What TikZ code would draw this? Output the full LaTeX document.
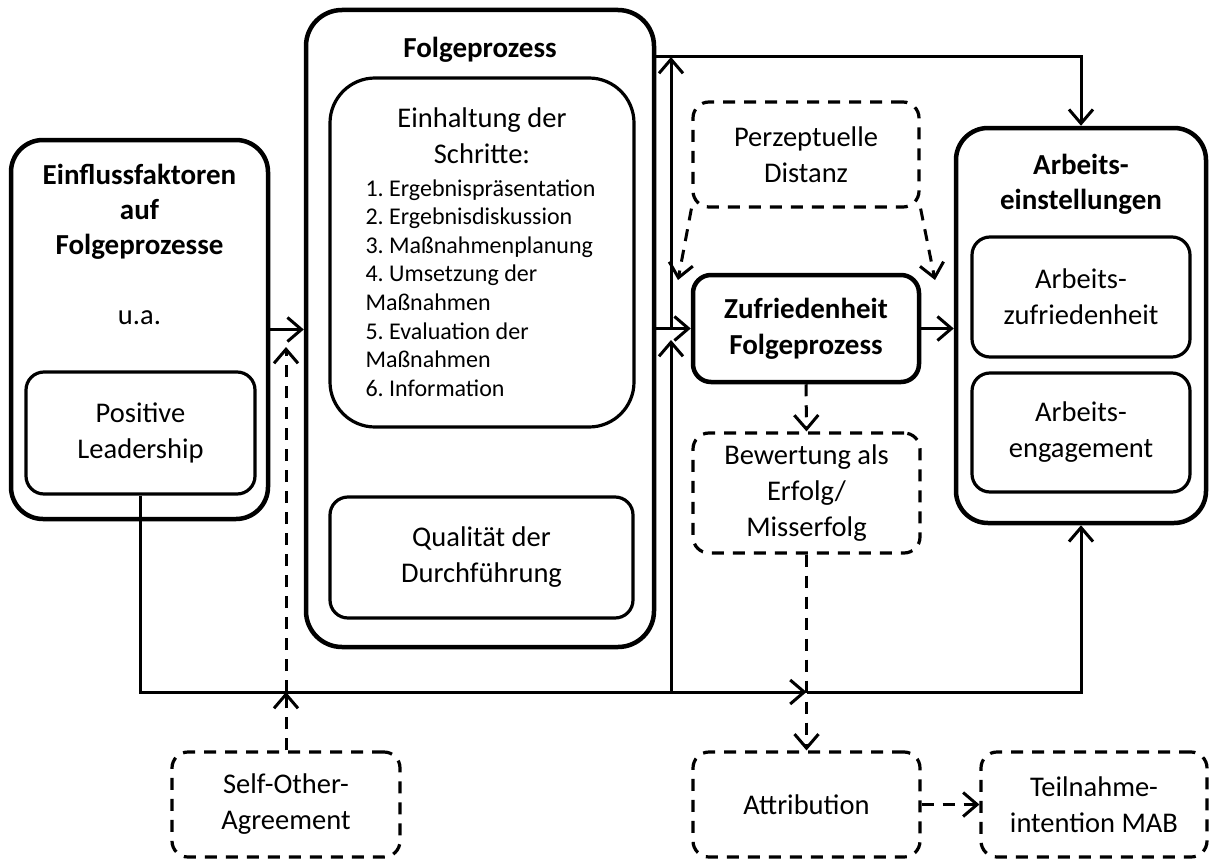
\documentclass[tikz,border=0pt]{standalone}
\usepackage{fontspec}
\setmainfont{Carlito}
\usetikzlibrary{arrows.meta}
\frenchspacing

\begin{document}
\begin{tikzpicture}[x=1pt, y=-1pt,
  outer/.style = {draw, line width=4.5pt, rounded corners=32pt},
  inner/.style = {draw, line width=3.2pt, rounded corners=18pt, align=center, font=\fontsize{28.5}{36}\selectfont},
  dashbox/.style = {draw, line width=3.2pt, dash pattern=on 12pt off 9pt, rounded corners=16pt, align=center, font=\fontsize{28.5}{36}\selectfont},
  title/.style = {align=center, font=\bfseries\fontsize{29}{35}\selectfont},
  txt/.style = {align=center, font=\fontsize{28.5}{36}\selectfont},
  arr/.style = {line width=3pt, -{Straight Barb[length=14pt, width=24pt, line width=3pt]}},
  darr/.style = {arr, dash pattern=on 12pt off 9pt}]

\useasboundingbox (0,0) rectangle (1210,859);

% links
\node[outer, minimum width=257pt, minimum height=379pt] (einfl) at (139.5,329.5) {};
\node[title] (einfltit) at (139.5,212) {Einflussfaktoren\\auf\\Folgeprozesse};
\node[txt] (ua) at (139.5,318) {u.a.};
\node[inner, minimum width=229pt, minimum height=122pt] (pos) at (140.5,433) {Positive\\Leadership};

% Folgeprozess
\node[outer, rounded corners=36pt, minimum width=348pt, minimum height=637pt] (folge) at (480,328.5) {};
\node[title] (folgetit) at (480,50) {Folgeprozess};
\node[inner, rounded corners=45pt, minimum width=304pt, minimum height=349pt] (einh) at (482,252.5) {};
\node[txt] (einhtit) at (482,136) {Einhaltung der\\Schritte:};
\node[align=left, anchor=west, font=\fontsize{24}{28.6}\selectfont] (einhlist) at (362,288) {1. Ergebnispräsentation\\2. Ergebnisdiskussion\\3. Maßnahmenplanung\\4. Umsetzung der\\Maßnahmen\\5. Evaluation der\\Maßnahmen\\6. Information};
\node[inner, minimum width=303pt, minimum height=121pt] (qual) at (481.5,557.5) {Qualität der\\Durchführung};

% Mitte
\node[dashbox, minimum width=226pt, minimum height=105pt] (perz) at (806,154.5) {Perzeptuelle\\Distanz};
\node[inner, line width=4.5pt, font=\bfseries\fontsize{29}{36}\selectfont, minimum width=226pt, minimum height=107pt] (zufr) at (806,328.5) {Zufriedenheit\\Folgeprozess};
\node[dashbox, minimum width=227pt, minimum height=120pt] (bew) at (806.5,493) {Bewertung als\\Erfolg/\\Misserfolg};

% rechts
\node[outer, minimum width=250pt, minimum height=395pt] (arbe) at (1081,325.5) {};
\node[title] (arbetit) at (1081,184.5) {Arbeits-\\einstellungen};
\node[inner, minimum width=218pt, minimum height=120pt] (azuf) at (1081,297) {Arbeits-\\zufriedenheit};
\node[inner, minimum width=218pt, minimum height=119pt] (aeng) at (1081,432.5) {Arbeits-\\engagement};

% unten
\node[dashbox, minimum width=228pt, minimum height=105pt] (soa) at (286,804.5) {Self-Other-\\Agreement};
\node[dashbox, minimum width=227pt, minimum height=105pt] (attr) at (806.5,804.5) {Attribution};
\node[dashbox, minimum width=226pt, minimum height=105pt] (teil) at (1094,804.5) {Teilnahme-\\intention MAB};

\coordinate (low) at (0,692);
\coordinate (top) at (0,57);
\coordinate (jx) at (671,0);
\coordinate (jin) at (671,340);
\coordinate (sx) at (286,0);
\coordinate (sin) at (286,347);
\coordinate (perzl) at (678,280);
\coordinate (perzr) at (935,280);

\draw[arr] (einfl.east) -- (einfl.east -| folge.west);
\draw[arr] (zufr.west -| folge.east) -- (zufr.west);
\draw[arr] (zufr.east) -- (zufr.east -| arbe.west);
\draw[arr] (jx |- zufr.west) -- (jx |- top);
\draw[arr] (folge.east |- top) -| (arbe.north);
\draw[arr] (jx |- low) -- (jin);
\draw[arr] (pos.south) |- (bew.south |- low);
\draw[arr] (bew.south |- low) -| (arbe.south);
\draw[darr] (soa.north) -- (sx |- low);
\draw[darr] (sx |- low) -- (sin);
\draw[darr] (perz.south west) -- (perzl);
\draw[darr] (perz.south east) -- (perzr);
\draw[darr] (zufr.south) -- (bew.north);
\draw[darr] (bew.south) -- (attr.north);
\draw[darr] (attr.east) -- (teil.west);
\end{tikzpicture}
\end{document}
